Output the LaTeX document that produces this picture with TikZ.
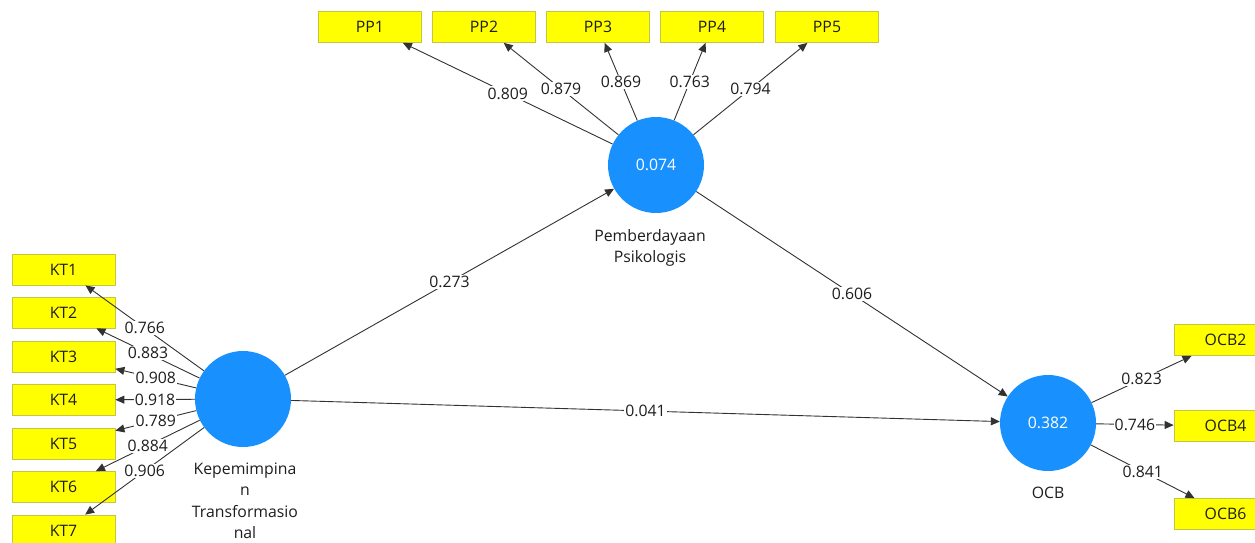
\documentclass[tikz,border=0pt]{standalone}
\usepackage{fontspec}
\setmainfont{Open Sans}
\usetikzlibrary{arrows.meta}
\definecolor{lvblue}{RGB}{24,145,255}
\definecolor{indyel}{RGB}{255,255,0}
\definecolor{indedge}{RGB}{196,196,70}
\definecolor{linec}{RGB}{50,50,50}
\definecolor{txtc}{RGB}{30,30,30}
\newcommand\dfont{\fontsize{15.8}{21.5}\selectfont}
\begin{document}
\begin{tikzpicture}[x=1pt,y=-1pt,
  lv/.style={circle,fill=lvblue,minimum size=96pt,inner sep=0pt,text=white,font=\dfont},
  ind/.style={rectangle,fill=indyel,draw=indedge,line width=0.8pt,minimum width=103pt,minimum height=31pt,inner sep=0pt,font=\dfont,text=txtc},
  conn/.style={draw=linec,line width=0.9pt,-{Triangle[length=9pt,width=8pt]}},
  lab/.style={fill=white,inner sep=1.2pt,font=\dfont,text=txtc},
  lvcaption/.style={font=\dfont,text=txtc,align=center}
]
\useasboundingbox[fill=white] (0,0) rectangle (1255,542);

% latent variables
\node[lv] (pp) at (656,165) {0.074};
\node[lv] (kt) at (243,399) {};
\node[lv] (ocb) at (1048,423) {0.382};

\node[lvcaption] (pplab) at (650,248) {Pemberdayaan\\Psikologis};
\node[lvcaption] (ktlab) at (245,501) {Kepemimpina\\n\\Transformasio\\nal};
\node[lvcaption] (ocblab) at (1048,493) {OCB};

% indicators PP
\node[ind] (pp1) at (370,27) {PP1};
\node[ind] (pp2) at (484,27) {PP2};
\node[ind] (pp3) at (598,27) {PP3};
\node[ind] (pp4) at (712,27) {PP4};
\node[ind] (pp5) at (827,27) {PP5};

% indicators KT
\node[ind] (kt1) at (63.5,269.5) {KT1};
\node[ind] (kt2) at (63.5,312.5) {KT2};
\node[ind] (kt3) at (63.5,356.5) {KT3};
\node[ind] (kt4) at (63.5,400) {KT4};
\node[ind] (kt5) at (63.5,443.5) {KT5};
\node[ind] (kt6) at (63.5,487) {KT6};
\node[ind] (kt7) at (63.5,530.5) {KT7};

% indicators OCB
\node[ind] (ocb2) at (1225.5,340) {OCB2};
\node[ind] (ocb4) at (1225.5,426) {OCB4};
\node[ind] (ocb6) at (1225.5,514) {OCB6};

% structural paths
\draw[conn] (kt) -- node[lab] {0.273} (pp);
\draw[conn] (pp) -- node[lab] {0.606} (ocb);
\draw[conn] (kt) -- node[lab] {0.041} (ocb);

% outer loadings PP
\draw[conn] (pp) -- node[lab] {0.809} (pp1);
\draw[conn] (pp) -- node[lab] {0.879} (pp2);
\draw[conn] (pp) -- node[lab] {0.869} (pp3);
\draw[conn] (pp) -- node[lab] {0.763} (pp4);
\draw[conn] (pp) -- node[lab] {0.794} (pp5);

% outer loadings KT
\draw[conn] (kt) -- node[lab] {0.766} (kt1);
\draw[conn] (kt) -- node[lab] {0.883} (kt2);
\draw[conn] (kt) -- node[lab] {0.908} (kt3);
\draw[conn] (kt) -- node[lab] {0.918} (kt4);
\draw[conn] (kt) -- node[lab] {0.789} (kt5);
\draw[conn] (kt) -- node[lab] {0.884} (kt6);
\draw[conn] (kt) -- node[lab] {0.906} (kt7);

% outer loadings OCB
\draw[conn] (ocb) -- node[lab] {0.823} (ocb2);
\draw[conn] (ocb) -- node[lab] {0.746} (ocb4);
\draw[conn] (ocb) -- node[lab] {0.841} (ocb6);
\end{tikzpicture}
\end{document}
